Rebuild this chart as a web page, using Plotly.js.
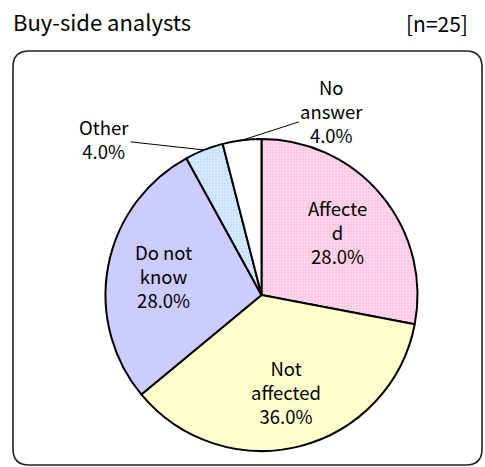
<!DOCTYPE html>
<html><head><meta charset="utf-8">
<script src="https://cdn.plot.ly/plotly-3.0.1.min.js"></script>
<style>html,body{margin:0;padding:0;background:#fff}</style>
</head><body>
<div id="chart" style="width:485px;height:467px"></div>
<script>
// ---- data ----
const categories = ["Affected", "Not affected", "Do not know", "Other", "No answer"];
const displayLabels = ["Affecte<br>d", "Not<br>affected", "Do not<br>know", "Other", "No<br>answer"];
const counts = [7, 9, 7, 1, 1];
const sampleSize = 25;
const chartTitle = "Buy-side analysts";
const sampleLabel = "[n=25]";

// ---- style ----
const W = 485, H = 467;
const cx = 261.5, cy = 295, R = 156;
const FONT = "'Noto Sans CJK JP', 'Noto Sans', sans-serif";
const sliceColors = ["#FFC4E1", "#FFFFCC", "#CCCCFF", "#C4E0FF", "#FFFFFF"];
const patternShapes = [".", "", "", ".", ""];
const labelStyle = [
  {rf: 0.63}, {rf: 0.64}, {rf: 0.64},
  {outside: true, ax: -100, ay: -11},
  {outside: true, ax: 90, ay: -29}
];

const total = counts.reduce((a, b) => a + b, 0);
const pct = counts.map(v => (v / sampleSize * 100).toFixed(1) + "%");

const trace = {
  type: "pie",
  labels: categories,
  values: counts,
  sort: false,
  direction: "clockwise",
  rotation: 0,
  textinfo: "none",
  hoverinfo: "none",
  domain: {x: [(cx - R) / W, (cx + R) / W], y: [1 - (cy + R) / H, 1 - (cy - R) / H]},
  marker: {
    colors: sliceColors,
    line: {color: "#000000", width: 2},
    pattern: {
      shape: patternShapes,
      bgcolor: sliceColors,
      fgcolor: "#FFFFFF",
      fgopacity: 0.55,
      size: 3,
      solidity: 0.4,
      fillmode: "overlay"
    }
  }
};

const annotations = [];
let cum = 0;
counts.forEach((v, i) => {
  const mid = (cum + v / 2) / total * 2 * Math.PI;
  cum += v;
  const st = labelStyle[i];
  const txt = displayLabels[i] + "<br>" + pct[i];
  if (!st.outside) {
    const px = cx + st.rf * R * Math.sin(mid);
    const py = cy - st.rf * R * Math.cos(mid);
    annotations.push({
      x: px / W, y: 1 - py / H, xref: "paper", yref: "paper",
      text: txt, showarrow: false, xanchor: "center", yanchor: "middle",
      font: {family: FONT, size: 18.5, color: "#000"}
    });
  } else {
    const px = cx + R * Math.sin(mid);
    const py = cy - R * Math.cos(mid);
    annotations.push({
      x: px / W, y: 1 - py / H, xref: "paper", yref: "paper",
      text: txt, showarrow: true, ax: st.ax, ay: st.ay,
      arrowhead: 0, arrowwidth: 1, arrowcolor: "#000", standoff: 0,
      font: {family: FONT, size: 18.5, color: "#000"}
    });
  }
});

annotations.push({
  x: 470 / W, y: 1 - 23 / H, xref: "paper", yref: "paper",
  xanchor: "right", yanchor: "middle", showarrow: false,
  text: sampleLabel, font: {family: FONT, size: 21, color: "#000"}
});

// rounded frame
const L = 13, Rt = 482, T = 51, B = 465, rad = 16;
const px = x => (x / W).toFixed(5), py = y => (1 - y / H).toFixed(5);
const framePath =
  `M ${px(L + rad)} ${py(T)} L ${px(Rt - rad)} ${py(T)} Q ${px(Rt)} ${py(T)} ${px(Rt)} ${py(T + rad)} ` +
  `L ${px(Rt)} ${py(B - rad)} Q ${px(Rt)} ${py(B)} ${px(Rt - rad)} ${py(B)} ` +
  `L ${px(L + rad)} ${py(B)} Q ${px(L)} ${py(B)} ${px(L)} ${py(B - rad)} ` +
  `L ${px(L)} ${py(T + rad)} Q ${px(L)} ${py(T)} ${px(L + rad)} ${py(T)} Z`;

const layout = {
  width: W, height: H,
  margin: {l: 0, r: 0, t: 0, b: 0},
  paper_bgcolor: "#FFFFFF",
  showlegend: false,
  title: {
    text: chartTitle, x: 13 / W, xanchor: "left", xref: "container",
    y: 1 - 23 / H, yanchor: "middle", yref: "container",
    font: {family: FONT, size: 22, color: "#000"}
  },
  shapes: [{
    type: "path", xref: "paper", yref: "paper", path: framePath,
    line: {color: "#222222", width: 1.6}, fillcolor: "rgba(0,0,0,0)", layer: "below"
  }],
  annotations: annotations
};

Plotly.newPlot("chart", [trace], layout, {displayModeBar: false, staticPlot: true});
</script>
</body></html>
